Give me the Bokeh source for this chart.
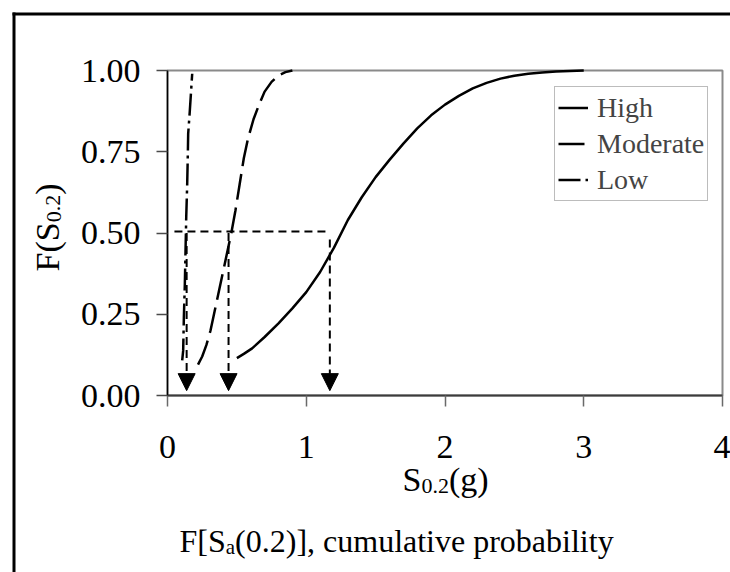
from bokeh.plotting import figure
from bokeh.models import (Range1d, Legend, LegendItem, Arrow, NormalHead, Label, LinearAxis,
                          BoxAnnotation, ColumnDataSource, FixedTicker, NumeralTickFormatter, Grid)
from bokeh.embed import file_html
from bokeh.resources import INLINE

# ---------------- data ----------------
high_x = [0.50, 0.55, 0.61, 0.70, 0.80, 0.90, 1.00, 1.10, 1.20, 1.30, 1.40, 1.50, 1.60,
          1.70, 1.80, 1.90, 2.00, 2.10, 2.20, 2.30, 2.40, 2.50, 2.60, 2.70, 2.80, 3.00]
high_f = [0.115, 0.128, 0.145, 0.180, 0.222, 0.268, 0.318, 0.380, 0.455, 0.540, 0.610, 0.672, 0.725,
          0.775, 0.822, 0.862, 0.895, 0.922, 0.945, 0.962, 0.975, 0.984, 0.990, 0.994, 0.997, 1.000]

mod_x = [0.22, 0.25, 0.28, 0.31, 0.34, 0.37, 0.40, 0.43, 0.46, 0.49, 0.52, 0.55, 0.58,
         0.62, 0.66, 0.70, 0.75, 0.80, 0.85, 0.90]
mod_f = [0.095, 0.120, 0.155, 0.200, 0.260, 0.320, 0.380, 0.440, 0.500, 0.570, 0.650, 0.730, 0.790,
         0.850, 0.895, 0.935, 0.965, 0.985, 0.995, 1.000]

low_x = [0.106, 0.113, 0.118, 0.125, 0.130, 0.135, 0.142, 0.147, 0.149, 0.161, 0.178]
low_f = [0.108, 0.138, 0.241, 0.344, 0.446, 0.549, 0.651, 0.754, 0.805, 0.877, 0.990]

series_names = ["High", "Moderate", "Low"]

median_x = [0.138, 0.44, 1.17]
median_top = [0.50, 0.50, 0.48]
arrow_tip = [0.015, 0.015, 0.015]
ref_level = [0.505, 0.505]
ref_x = [0.05, 1.145]

x_ticks = [0, 1, 2, 3, 4]
y_ticks = [0.0, 0.25, 0.5, 0.75, 1.0]
y_tick_labels = ["0.00", "0.25", "0.50", "0.75", "1.00"]

# title pieces: (text, is_subscript)
x_title = [("S", False), ("0.2", True), ("(g)", False)]
y_title = [("F(S", False), ("0.2", True), (")", False)]
caption = [("F[S", False), ("a", True), ("(0.2)], cumulative probability", False)]

FONT = "Liberation Serif"
W, H = 730, 572
# plot-area placement on the canvas (pixels)
FL, FR, FT, FB = 167, 722, 70, 395
XMIN, XMAX, YMIN, YMAX = 0, 4, 0, 1
sx = (FR - FL) / (XMAX - XMIN)
sy = (FB - FT) / (YMAX - YMIN)

p = figure(width=W, height=H, output_backend="svg", toolbar_location=None,
           x_axis_location=None, y_axis_location=None,
           x_range=Range1d(XMIN - FL / sx, XMIN + (W - FL) / sx),
           y_range=Range1d(YMIN - (H - FB) / sy, YMIN + FB / sy),
           min_border=0, min_border_left=0, min_border_right=0, min_border_top=0, min_border_bottom=0)
p.outline_line_color = None
p.background_fill_color = "white"
p.border_fill_color = "white"
for r in list(p.center):
    if isinstance(r, Grid):
        r.visible = False


def px2x(px):
    return XMIN + (px - FL) / sx


def px2y(py):
    return YMIN + (FB - py) / sy


# plot-area border (grey)
p.add_layout(BoxAnnotation(left=XMIN, right=XMAX, bottom=YMIN, top=YMAX, fill_alpha=0,
                           line_color="#8a8a8a", line_alpha=1, line_width=2, level="underlay"))
# the cropped outer black frame of the original figure (left and top edges only)
p.add_layout(BoxAnnotation(left=px2x(12), right=px2x(15), top=px2y(12), bottom=px2y(H + 60),
                           fill_color="black", fill_alpha=1, line_alpha=0))
p.add_layout(BoxAnnotation(left=px2x(12), right=px2x(W + 60), top=px2y(12), bottom=px2y(15),
                           fill_color="black", fill_alpha=1, line_alpha=0))

# axes at fixed positions
xaxis = LinearAxis(fixed_location=YMIN, bounds=(XMIN, XMAX), ticker=FixedTicker(ticks=x_ticks))
yaxis = LinearAxis(fixed_location=XMIN, bounds=(YMIN, YMAX), ticker=FixedTicker(ticks=y_ticks),
                   formatter=NumeralTickFormatter(format="0.00"),
                   major_label_overrides={t: s for t, s in zip(y_ticks, y_tick_labels)})
for ax in (xaxis, yaxis):
    ax.minor_tick_line_color = None
    ax.major_tick_in = 0
    ax.major_tick_out = 11
    ax.major_label_text_font = FONT
    ax.major_label_text_font_size = "34px"
    ax.major_label_text_color = "black"
xaxis.axis_line_color = "#3c3c3c"
xaxis.axis_line_width = 2
xaxis.major_tick_line_color = "#6a6a6a"
xaxis.major_tick_line_width = 1.5
xaxis.major_label_standoff = 29
yaxis.axis_line_color = "black"
yaxis.axis_line_width = 1.5
yaxis.major_tick_line_color = "#4a4a4a"
yaxis.major_tick_line_width = 1.5
yaxis.major_label_standoff = 16
p.add_layout(xaxis, "below")
p.add_layout(yaxis, "left")

# curves
r_high = p.line(high_x, high_f, line_color="black", line_width=2.5)
r_mod = p.line(mod_x, mod_f, line_color="black", line_width=2.5, line_dash="26 8")
r_low = p.line(low_x, low_f, line_color="black", line_width=2.5, line_dash="22 5 3 5")

# median reference line and arrows
p.line(ref_x, ref_level, line_color="black", line_width=2, line_dash="8 5")
arrow_src = ColumnDataSource(dict(x=median_x, y0=median_top, y1=arrow_tip))
p.add_layout(Arrow(end=NormalHead(size=17, fill_color="black", line_color="black"),
                   x_start="x", y_start="y0", x_end="x", y_end="y1",
                   line_color="black", line_width=2, line_dash="8 5", source=arrow_src))

# legend
legend = Legend(items=[LegendItem(label=n, renderers=[r]) for n, r in zip(series_names, [r_high, r_mod, r_low])],
                location=(554, H - 201), label_text_font=FONT, label_text_font_size="28px",
                glyph_width=30, glyph_height=35, label_height=35, label_standoff=9,
                padding=3, spacing=1, margin=0, border_line_color="#7a7a7a", border_line_width=1.5,
                background_fill_color="white", background_fill_alpha=1)
p.add_layout(legend)


# titles with true subscripts
def piece_widths(pieces, size, sub_size):
    # Times/Liberation Serif advance widths (em)
    em = {"S": .556, "F": .556, "(": .333, ")": .333, "[": .333, "]": .333, "a": .444, "g": .5,
          "0": .5, "2": .5, ".": .25}
    out = []
    for t, sub in pieces:
        out.append(sum(em.get(c, .5) for c in t) * (sub_size if sub else size))
    return out


def put_title(pieces, x, y, size, sub_size, drop, angle=0.0):
    ws = piece_widths(pieces, size, sub_size)
    pos = 0.0
    for (t, sub), w in zip(pieces, ws):
        if angle == 0:
            xo, yo = pos, (-drop if sub else 0)
        else:  # rotated 90 deg, text reads upward
            xo, yo = (drop if sub else 0), pos
        p.add_layout(Label(x=x, y=y, x_offset=xo, y_offset=yo, text=t, angle=angle,
                           text_font=FONT, text_font_size=f"{sub_size if sub else size}px",
                           text_color="black", text_align="left", text_baseline="alphabetic"))
        pos += w


put_title(x_title, px2x(402), px2y(479), 34, 22, 6)
put_title(y_title, px2x(47), px2y(271), 34, 22, 6, angle=1.5708)
put_title(caption, px2x(179), px2y(540), 32, 21, 6)

open("out.html", "w").write(file_html(p, INLINE))
